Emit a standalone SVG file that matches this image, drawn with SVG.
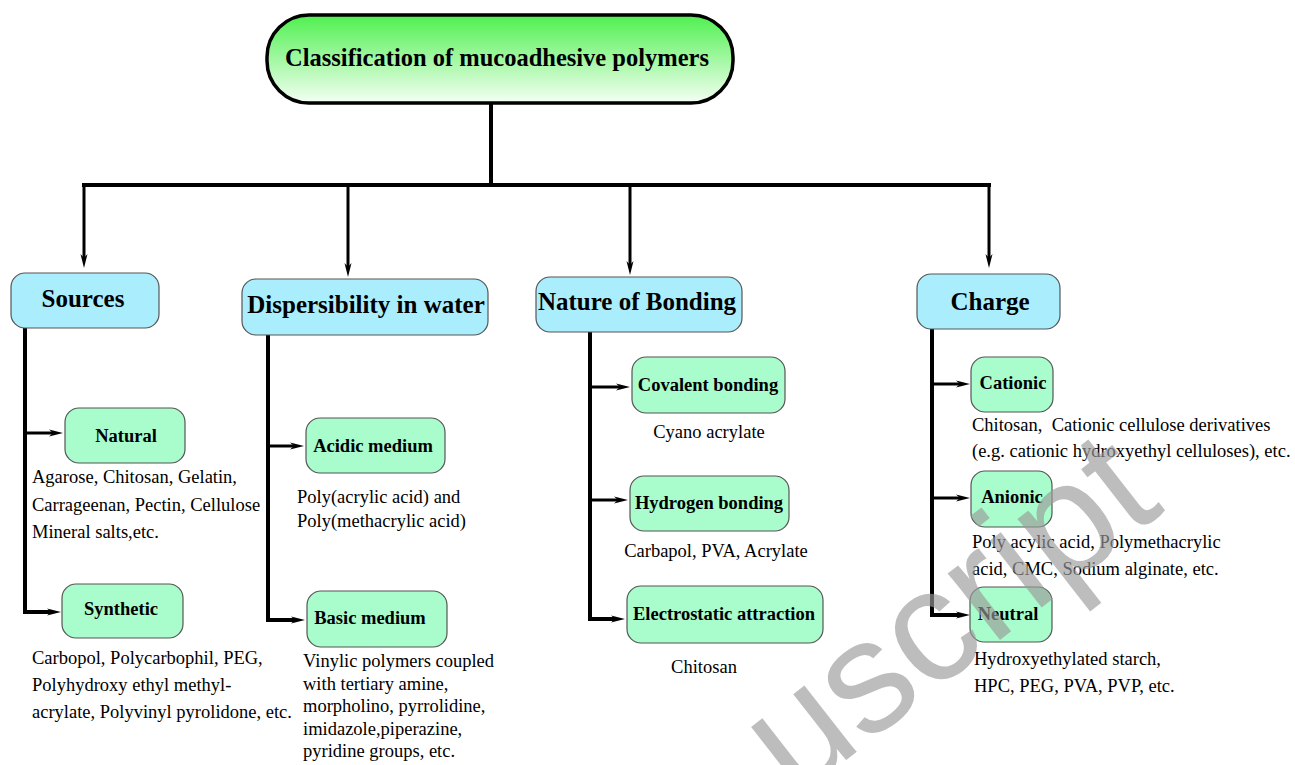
<svg xmlns="http://www.w3.org/2000/svg" width="1295" height="765" viewBox="0 0 1295 765">
<style>
.hdr{fill:#aaeefe;stroke:#555;stroke-width:1.2}
.sub{fill:#a9fccb;stroke:#555;stroke-width:1.2}
.t{font-family:"Liberation Serif","Times New Roman",serif;fill:#000}
.ht{font-size:25px;font-weight:bold;text-anchor:middle}
.st{font-size:18.5px;font-weight:bold;text-anchor:middle}
.d{font-size:18.5px}
.dm{font-size:18.5px;text-anchor:middle}
.main{stroke:#000;fill:none;stroke-width:4}
.ar{stroke:#000;fill:none;stroke-width:3}
.wm{font-family:"Liberation Sans",Arial,sans-serif;font-size:160px;fill:#9a9a9a;fill-opacity:0.65}
</style>
<defs>
<linearGradient id="gt" x1="0" y1="0" x2="0" y2="1">
<stop offset="0" stop-color="#4ff04f"/>
<stop offset="1" stop-color="#f4fff4"/>
</linearGradient>
<marker id="ah" markerUnits="userSpaceOnUse" markerWidth="16" markerHeight="10" refX="6" refY="4" orient="auto">
<path d="M0,0.5 L14,4 L0,7.5 L4,4 z" fill="#000"/>
</marker>
</defs>
<rect width="1295" height="765" fill="#fff"/>

<g id="connectors">
<line class="main" x1="491" y1="103" x2="491" y2="185"/>
<line class="main" x1="82" y1="185" x2="991" y2="185" stroke-width="5"/>
<line class="ar" x1="84" y1="185" x2="84" y2="260" marker-end="url(#ah)"/>
<line class="ar" x1="348" y1="185" x2="348" y2="269" marker-end="url(#ah)"/>
<line class="ar" x1="630" y1="185" x2="630" y2="267" marker-end="url(#ah)"/>
<line class="ar" x1="989" y1="185" x2="989" y2="260" marker-end="url(#ah)"/>
<polyline class="main" points="25,328 25,612 53,612" marker-end="url(#ah)"/>
<line class="ar" x1="25" y1="433" x2="55" y2="433" marker-end="url(#ah)"/>
<polyline class="main" points="268,335 268,620 297,620" marker-end="url(#ah)"/>
<line class="ar" x1="268" y1="446" x2="296" y2="446" marker-end="url(#ah)"/>
<polyline class="main" points="590,332 590,619 617,619" marker-end="url(#ah)"/>
<line class="ar" x1="590" y1="387" x2="622" y2="387" marker-end="url(#ah)"/>
<line class="ar" x1="590" y1="500" x2="620" y2="500" marker-end="url(#ah)"/>
<polyline class="main" points="932,329 932,615 962,615" marker-end="url(#ah)"/>
<line class="ar" x1="932" y1="384" x2="962" y2="384" marker-end="url(#ah)"/>
<line class="ar" x1="932" y1="498" x2="962" y2="498" marker-end="url(#ah)"/>
</g>

<g id="title">
<rect x="267" y="15" width="466" height="88" rx="42" fill="url(#gt)" stroke="#000" stroke-width="3.5"/>
<text class="t" x="497" y="66" font-size="24.5" font-weight="bold" text-anchor="middle">Classification of mucoadhesive polymers</text>
</g>

<g id="sources">
<rect class="hdr" x="11" y="273" width="148" height="55" rx="14"/>
<text class="t ht" x="83" y="307">Sources</text>
</g>
<g id="dispersibility">
<rect class="hdr" x="242" y="279" width="246" height="56" rx="14"/>
<text class="t ht" x="366" y="313">Dispersibility in water</text>
</g>
<g id="bonding">
<rect class="hdr" x="536" y="277" width="206" height="55" rx="14"/>
<text class="t ht" x="637" y="310">Nature of Bonding</text>
</g>
<g id="charge">
<rect class="hdr" x="917" y="274" width="143" height="55" rx="14"/>
<text class="t ht" x="990" y="310">Charge</text>
</g>

<g id="natural">
<rect class="sub" x="65" y="408" width="120" height="55" rx="14"/>
<text class="t st" x="126" y="442">Natural</text>
<text class="t d" x="32" y="483">Agarose, Chitosan, Gelatin,</text>
<text class="t d" x="32" y="511">Carrageenan, Pectin, Cellulose</text>
<text class="t d" x="32" y="538">Mineral salts,etc.</text>
</g>
<g id="synthetic">
<rect class="sub" x="62" y="584" width="121" height="54" rx="14"/>
<text class="t st" x="121" y="615">Synthetic</text>
<text class="t d" x="32" y="664">Carbopol, Polycarbophil, PEG,</text>
<text class="t d" x="32" y="691">Polyhydroxy ethyl methyl-</text>
<text class="t d" x="32" y="718">acrylate, Polyvinyl pyrolidone, etc.</text>
</g>
<g id="acidic">
<rect class="sub" x="306" y="418" width="139" height="55" rx="14"/>
<text class="t st" x="373" y="452">Acidic medium</text>
<text class="t d" x="297" y="503">Poly(acrylic acid) and</text>
<text class="t d" x="297" y="527">Poly(methacrylic acid)</text>
</g>
<g id="basic">
<rect class="sub" x="307" y="591" width="140" height="56" rx="14"/>
<text class="t st" x="370" y="624">Basic medium</text>
<text class="t d" x="303" y="667">Vinylic polymers coupled</text>
<text class="t d" x="303" y="690">with tertiary amine,</text>
<text class="t d" x="303" y="712">morpholino, pyrrolidine,</text>
<text class="t d" x="303" y="735">imidazole,piperazine,</text>
<text class="t d" x="303" y="757">pyridine groups, etc.</text>
</g>
<g id="covalent">
<rect class="sub" x="632" y="357" width="153" height="56" rx="14"/>
<text class="t st" x="708" y="391">Covalent bonding</text>
<text class="t dm" x="709" y="438">Cyano acrylate</text>
</g>
<g id="hydrogen">
<rect class="sub" x="630" y="476" width="159" height="55" rx="14"/>
<text class="t st" x="709" y="509">Hydrogen bonding</text>
<text class="t dm" x="716" y="557">Carbapol, PVA, Acrylate</text>
</g>
<g id="electrostatic">
<rect class="sub" x="627" y="586" width="196" height="57" rx="14"/>
<text class="t st" x="724" y="620">Electrostatic attraction</text>
<text class="t dm" x="704" y="673">Chitosan</text>
</g>
<g id="cationic">
<rect class="sub" x="971" y="357" width="82" height="55" rx="14"/>
<text class="t st" x="1013" y="389">Cationic</text>
<text class="t d" x="972" y="431" style="white-space:pre">Chitosan,  Cationic cellulose derivatives</text>
<text class="t d" x="972" y="457">(e.g. cationic hydroxyethyl celluloses), etc.</text>
</g>
<g id="anionic">
<rect class="sub" x="971" y="471" width="81" height="56" rx="14"/>
<text class="t st" x="1012" y="503">Anionic</text>
<text class="t d" x="972" y="548">Poly acylic acid, Polymethacrylic</text>
<text class="t d" x="972" y="575">acid, CMC, Sodium alginate, etc.</text>
</g>
<g id="neutral">
<rect class="sub" x="970" y="587" width="82" height="55" rx="14"/>
<text class="t st" x="1008" y="620">Neutral</text>
<text class="t d" x="974" y="665">Hydroxyethylated starch,</text>
<text class="t d" x="974" y="692">HPC, PEG, PVA, PVP, etc.</text>
</g>

<text class="wm" transform="translate(795,800) rotate(-38)">uscript</text>
</svg>
